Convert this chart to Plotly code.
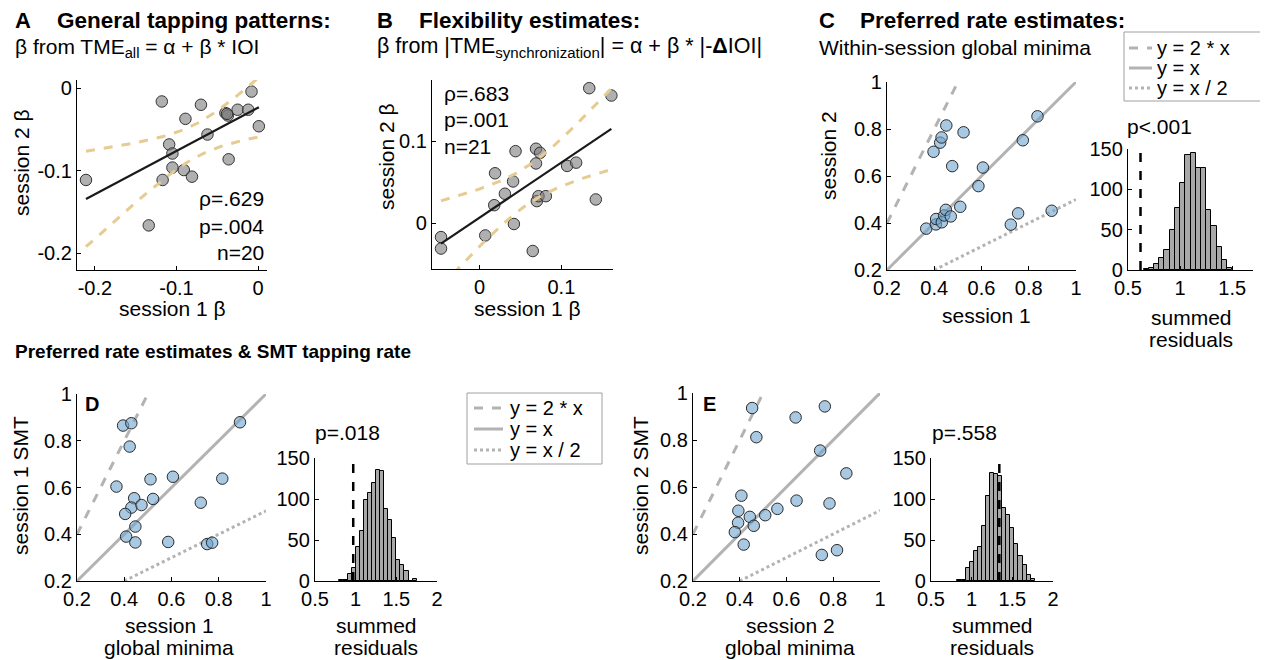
import numpy as np
import plotly.graph_objects as go

# The page body keeps the browser's default 8px margin, so the figure is drawn
# 8px smaller and every reference pixel position is shifted by that margin.
OFF = 8
W, H = 1268 - OFF, 660 - OFF
FONT = "Liberation Sans, Arial, sans-serif"

# ---------------- data ----------------
# Panel A: general tapping patterns (beta)
a_s1 = [-0.211, -0.118, -0.134, -0.117, -0.109, -0.105, -0.105, -0.091, -0.081, -0.089,
        -0.070, -0.062, -0.040, -0.037, -0.036, -0.025, -0.012, -0.008, 0.001, -0.038]
a_s2 = [-0.111, -0.016, -0.166, -0.111, -0.068, -0.079, -0.096, -0.099, -0.107, -0.037,
        -0.020, -0.056, -0.030, -0.033, -0.086, -0.026, -0.026, -0.004, -0.046, -0.031]
a_stats = ["ρ=.629", "p=.004", "n=20"]

# Panel B: flexibility estimates (beta)
b_s1 = [-0.047, -0.047, 0.019, 0.018, 0.007, 0.031, 0.041, 0.044, 0.042, 0.065, 0.069,
        0.074, 0.069, 0.070, 0.072, 0.081, 0.107, 0.118, 0.142, 0.134, 0.161]
b_s2 = [-0.017, -0.031, 0.061, 0.022, -0.015, 0.036, 0.051, 0.088, -0.001, -0.034, 0.091,
        0.086, 0.073, 0.027, 0.033, 0.033, 0.070, 0.074, 0.029, 0.165, 0.156]
b_stats = ["ρ=.683", "p=.001", "n=21"]

# Panel C: within-session global minima
c_s1 = [0.366, 0.397, 0.407, 0.408, 0.425, 0.431, 0.432, 0.442, 0.449, 0.451, 0.470,
        0.476, 0.510, 0.524, 0.587, 0.606, 0.724, 0.755, 0.775, 0.837, 0.897]
c_s2 = [0.376, 0.703, 0.394, 0.417, 0.742, 0.764, 0.403, 0.432, 0.456, 0.815, 0.428,
        0.642, 0.469, 0.786, 0.557, 0.636, 0.393, 0.441, 0.752, 0.854, 0.452]
c_hist_bins = [0.675, 0.725, 0.775, 0.825, 0.875, 0.925, 0.975, 1.025, 1.075, 1.125,
               1.175, 1.225, 1.275, 1.325, 1.375, 1.425, 1.475]
c_hist_counts = [1, 2, 7, 15, 25, 50, 77, 108, 142, 145, 126, 126, 74, 55, 28, 12, 3]
c_observed = 0.62
c_p = "p<.001"

# Panel D: session 1 global minima vs SMT
d_min = [0.395, 0.430, 0.423, 0.367, 0.511, 0.606, 0.442, 0.522, 0.430, 0.473, 0.404,
         0.447, 0.408, 0.447, 0.586, 0.724, 0.751, 0.772, 0.815, 0.890]
d_smt = [0.865, 0.875, 0.775, 0.604, 0.635, 0.646, 0.554, 0.551, 0.514, 0.525, 0.487,
         0.433, 0.390, 0.365, 0.367, 0.535, 0.358, 0.364, 0.638, 0.879]
d_hist_bins = [0.825, 0.875, 0.925, 0.975, 1.025, 1.075, 1.125, 1.175, 1.225, 1.275,
               1.325, 1.375, 1.425, 1.475, 1.525, 1.575, 1.625, 1.675, 1.725]
d_hist_counts = [1, 1, 8, 16, 42, 61, 99, 107, 120, 135, 134, 88, 74, 52, 26, 20, 12, 0, 2]
d_observed = 0.97
d_p = "p=.018"

# Panel E: session 2 global minima vs SMT
e_min = [0.453, 0.764, 0.639, 0.471, 0.744, 0.856, 0.407, 0.394, 0.643, 0.561, 0.784,
         0.509, 0.443, 0.393, 0.460, 0.379, 0.417, 0.751, 0.816]
e_smt = [0.936, 0.943, 0.896, 0.812, 0.755, 0.658, 0.563, 0.499, 0.542, 0.507, 0.530,
         0.480, 0.473, 0.448, 0.435, 0.408, 0.355, 0.311, 0.331]
e_hist_bins = [0.85, 0.90, 0.95, 1.00, 1.05, 1.10, 1.15, 1.20, 1.25, 1.30, 1.35, 1.40,
               1.45, 1.50, 1.55, 1.60, 1.65, 1.70, 1.75]
e_hist_counts = [1, 1, 16, 23, 36, 42, 67, 104, 132, 130, 128, 89, 80, 65, 45, 30, 19, 7, 3]
e_observed = 1.34
e_p = "p=.558"

ref_lines = [("y = 2 * x", 2.0, "dash"), ("y = x", 1.0, "solid"), ("y = x / 2", 0.5, "dot")]
bin_width = 0.05
# simultaneous (Working-Hotelling) 95% band factor sqrt(2 * F(0.95; 2, n-2))
band_crit = {18: 2.667, 19: 2.654}

# ---------------- styles ----------------
GRAY_MK = "rgba(128,128,128,0.62)"
BLUE_MK = "rgba(110,165,205,0.6)"
REF_COL = "#b3b3b3"
CI_COL = "#e6cb92"
HIST_COL = "#a8a8a8"

fig = go.Figure()


def fit_and_ci(x, y):
    x = np.asarray(x, float)
    y = np.asarray(y, float)
    n = len(x)
    b, a = np.polyfit(x, y, 1)
    xs = np.linspace(x.min(), x.max(), 60)
    yhat = a + b * xs
    resid = y - (a + b * x)
    s = np.sqrt(np.sum(resid ** 2) / (n - 2))
    sxx = np.sum((x - x.mean()) ** 2)
    half = band_crit[n - 2] * s * np.sqrt(1.0 / n + (xs - x.mean()) ** 2 / sxx)
    return xs, yhat, yhat - half, yhat + half


def beta_panel(x, y, xa, ya):
    fig.add_trace(go.Scatter(x=x, y=y, mode="markers", xaxis=xa, yaxis=ya, cliponaxis=False,
                             marker=dict(size=11.5, color=GRAY_MK, line=dict(color="#333333", width=1)),
                             showlegend=False, hoverinfo="skip"))
    xs, yh, lo, hi = fit_and_ci(x, y)
    for yy in (lo, hi):
        fig.add_trace(go.Scatter(x=xs, y=yy, mode="lines", xaxis=xa, yaxis=ya,
                                 line=dict(color=CI_COL, width=3, dash="dash"),
                                 showlegend=False, hoverinfo="skip"))
    fig.add_trace(go.Scatter(x=xs, y=yh, mode="lines", xaxis=xa, yaxis=ya,
                             line=dict(color="#1a1a1a", width=2.2), showlegend=False, hoverinfo="skip"))


def minima_panel(x, y, xa, ya):
    for name, k, dash in ref_lines:
        x0 = max(0.2, 0.2 / k)
        x1 = min(1.0, 1.0 / k)
        xs = np.array([x0, x1])
        fig.add_trace(go.Scatter(x=xs, y=k * xs, mode="lines", xaxis=xa, yaxis=ya,
                                 line=dict(color=REF_COL, width=3, dash=dash),
                                 showlegend=False, hoverinfo="skip"))
    fig.add_trace(go.Scatter(x=x, y=y, mode="markers", xaxis=xa, yaxis=ya, cliponaxis=False,
                             marker=dict(size=11.5, color=BLUE_MK, line=dict(color="#2a2a2a", width=1)),
                             showlegend=False, hoverinfo="skip"))


def hist_panel(bins, counts, obs, ymax, xa, ya):
    fig.add_trace(go.Bar(x=bins, y=counts, width=bin_width, xaxis=xa, yaxis=ya,
                         marker=dict(color=HIST_COL, line=dict(color="black", width=1)),
                         showlegend=False, hoverinfo="skip"))
    fig.add_trace(go.Scatter(x=[obs, obs], y=[0, ymax], mode="lines", xaxis=xa, yaxis=ya,
                             line=dict(color="black", width=2.5, dash="dash"),
                             showlegend=False, hoverinfo="skip"))


beta_panel(a_s1, a_s2, "x", "y")
beta_panel(b_s1, b_s2, "x2", "y2")
minima_panel(c_s1, c_s2, "x3", "y3")
hist_panel(c_hist_bins, c_hist_counts, c_observed, 150, "x4", "y4")
minima_panel(d_min, d_smt, "x5", "y5")
hist_panel(d_hist_bins, d_hist_counts, d_observed, 150, "x6", "y6")
minima_panel(e_min, e_smt, "x7", "y7")
hist_panel(e_hist_bins, e_hist_counts, e_observed, 150, "x8", "y8")


# ---------------- axes (reference pixel positions -> paper fractions) ----------------
def fx(px):
    return (px - OFF) / W


def fy(py):
    return 1 - (py - OFF) / H


def xdom(l, r):
    return [fx(l), fx(r)]


def ydom(t, b):
    return [fy(b), fy(t)]


def axis(domain, rng, tv, tt, anchor):
    return dict(domain=domain, range=rng, tickvals=tv, ticktext=tt, anchor=anchor,
                showline=True, linecolor="black", linewidth=1.3, ticks="inside", ticklen=4,
                tickwidth=1, tickcolor="black", showgrid=False, zeroline=False, fixedrange=True,
                automargin=False, ticklabelstandoff=0,
                tickfont=dict(family=FONT, size=20, color="black"))


sc_t = [0.2, 0.4, 0.6, 0.8, 1.0]
sc_tt = ["0.2", "0.4", "0.6", "0.8", "1"]
hy_t = [0, 50, 100, 150]
hy_tt = ["0", "50", "100", "150"]
h2_t = [0.5, 1, 1.5, 2]
h2_tt = ["0.5", "1", "1.5", "2"]

layout_axes = {
    "xaxis": axis(xdom(77, 267), [-0.222, 0.011], [-0.2, -0.1, 0], ["-0.2", "-0.1", "0"], "y"),
    "yaxis": axis(ydom(80, 270), [-0.22, 0.01], [-0.2, -0.1, 0], ["-0.2", "-0.1", "0"], "x"),
    "xaxis2": axis(xdom(432, 613), [-0.058, 0.163], [0, 0.1], ["0", "0.1"], "y2"),
    "yaxis2": axis(ydom(80, 269), [-0.056, 0.175], [0, 0.1], ["0", "0.1"], "x2"),
    "xaxis3": axis(xdom(887, 1076), [0.2, 1.0], sc_t, sc_tt, "y3"),
    "yaxis3": axis(ydom(82, 270), [0.2, 1.0], sc_t, sc_tt, "x3"),
    "xaxis4": axis(xdom(1128, 1253), [0.5, 1.7], [0.5, 1, 1.5], ["0.5", "1", "1.5"], "y4"),
    "yaxis4": axis(ydom(149, 270), [0, 150], hy_t, hy_tt, "x4"),
    "xaxis5": axis(xdom(77, 266), [0.2, 1.0], sc_t, sc_tt, "y5"),
    "yaxis5": axis(ydom(394, 581), [0.2, 1.0], sc_t, sc_tt, "x5"),
    "xaxis6": axis(xdom(315, 437), [0.5, 2.0], h2_t, h2_tt, "y6"),
    "yaxis6": axis(ydom(458, 581), [0, 150], hy_t, hy_tt, "x6"),
    "xaxis7": axis(xdom(693, 880), [0.2, 1.0], sc_t, sc_tt, "y7"),
    "yaxis7": axis(ydom(393, 581), [0.2, 1.0], sc_t, sc_tt, "x7"),
    "xaxis8": axis(xdom(931, 1053), [0.5, 2.0], h2_t, h2_tt, "y8"),
    "yaxis8": axis(ydom(458, 581), [0, 150], hy_t, hy_tt, "x8"),
}


# ---------------- annotations ----------------
def ann(text, x, y, size=21, bold=False, xanchor="left", angle=0):
    if bold:
        text = "<b>" + text + "</b>"
    return dict(text=text, x=fx(x), y=fy(y), xref="paper", yref="paper",
                xanchor=xanchor, yanchor="middle", showarrow=False, textangle=angle,
                font=dict(family=FONT, size=size, color="black"))


anns = [
    ann("A", 13, 21, 22, True), ann("General tapping patterns:", 55, 21, 22.5, True),
    ann("β from TME<sub>all</sub> = α + β * IOI", 13, 48),
    ann("B", 375, 21, 22, True), ann("Flexibility estimates:", 417, 21, 22.5, True),
    ann("β from |TME<sub>synchronization</sub>| = α + β * |-<b>Δ</b>IOI|", 375, 48, 21.5),
    ann("C", 817, 21, 22, True), ann("Preferred rate estimates:", 858, 21, 22.5, True),
    ann("Within-session global minima", 817, 48),
    ann("Preferred rate estimates & SMT tapping rate", 13, 352, 19, True),
    # axis titles
    ann("session 2 β", 22, 163, xanchor="center", angle=-90),
    ann("session 1 β", 172, 308, xanchor="center"),
    ann("session 2 β", 386, 157, xanchor="center", angle=-90),
    ann("session 1 β", 527, 308, xanchor="center"),
    ann("session 2", 828, 156, xanchor="center", angle=-90),
    ann("session 1", 986, 315, xanchor="center"),
    ann("summed", 1191, 318, xanchor="center"),
    ann("residuals", 1191, 340, xanchor="center"),
    ann("session 1 SMT", 20, 486, xanchor="center", angle=-90),
    ann("session 1", 169, 625, xanchor="center"),
    ann("global minima", 169, 647, xanchor="center"),
    ann("summed", 376, 625, xanchor="center"),
    ann("residuals", 376, 647, xanchor="center"),
    ann("session 2 SMT", 640, 486, xanchor="center", angle=-90),
    ann("session 2", 790, 625, xanchor="center"),
    ann("global minima", 790, 647, xanchor="center"),
    ann("summed", 992, 625, xanchor="center"),
    ann("residuals", 992, 647, xanchor="center"),
    # panel letters inside axes
    ann("D", 83, 404, 20, True), ann("E", 701, 404, 20, True),
    # p values
    ann(c_p, 1125, 126), ann(d_p, 313, 432), ann(e_p, 930, 432),
]
for txt, yy in zip(a_stats, [199, 226, 252]):
    anns.append(ann(txt, 266, yy, xanchor="right"))
for txt, yy in zip(b_stats, [93, 119, 146]):
    anns.append(ann(txt, 442, yy))

# ---------------- manual legends ----------------
shapes = []


def legend_box(l, t, r, b, x0, x1, tx, rows):
    shapes.append(dict(type="rect", xref="paper", yref="paper", x0=fx(l), x1=fx(r),
                       y0=fy(b), y1=fy(t), line=dict(color="#a0a0a0", width=1),
                       fillcolor="white", layer="above"))
    for (name, k, dash), yy in zip(ref_lines, rows):
        shapes.append(dict(type="line", xref="paper", yref="paper", x0=fx(x0), x1=fx(x1),
                           y0=fy(yy), y1=fy(yy),
                           line=dict(color=REF_COL, width=3, dash=dash), layer="above"))
        anns.append(ann(name, tx, yy, 20))


legend_box(1124, 32, 1262, 101, 1129, 1152, 1155, [48, 68, 88])
legend_box(467, 393, 602, 464, 474, 503, 508, [408, 429, 450])

fig.update_layout(template="none", width=W, height=H, margin=dict(l=0, r=0, t=0, b=0, pad=0),
                  autosize=False,
                  paper_bgcolor="white", plot_bgcolor="white", showlegend=False,
                  bargap=0, annotations=anns, shapes=shapes,
                  font=dict(family=FONT, color="black"), **layout_axes)

fig.write_html("out.html")
